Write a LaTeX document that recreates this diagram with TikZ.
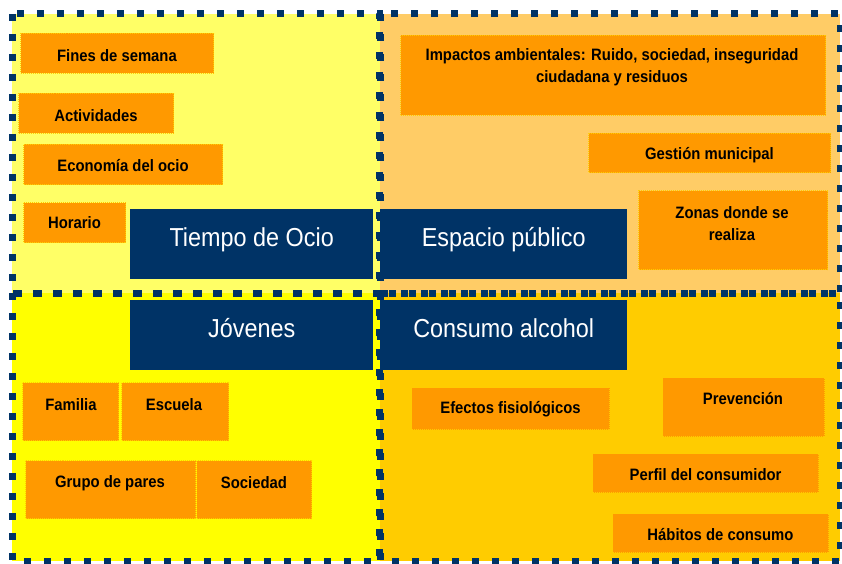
\documentclass[tikz,border=0pt]{standalone}
\usepackage{fontspec}
\setmainfont{Liberation Sans}[FakeStretch=0.9]
\definecolor{navy}{HTML}{003366}
\definecolor{qtl}{HTML}{FFFF66}
\definecolor{qtr}{HTML}{FFCC66}
\definecolor{qbl}{HTML}{FFFF00}
\definecolor{qbr}{HTML}{FFCC00}
\definecolor{obox}{HTML}{FF9900}
\definecolor{oedge}{HTML}{FFCC00}
\tikzset{
  quadborder/.style={draw=navy, line width=7pt, dash pattern=on 7pt off 13pt},
  bluebox/.style={fill=navy, draw=none, anchor=north west, inner sep=0pt, text=white,
     text height=18pt, text depth=14pt,
     font=\fontsize{26}{28}\selectfont},
  orangebox/.style={fill=obox, draw=oedge, densely dotted, line width=1pt, anchor=north west, inner sep=0pt},
  otext/.style={text=black, font=\bfseries\fontsize{16.5}{22}\selectfont, align=center, inner sep=0pt},
}
\newcommand{\obx}[5]{% name, x1, y1, x2, y2
  \node[orangebox, minimum width={(#4-#2)*1pt}, minimum height={(#5-#3)*1pt}] (#1) at (#2pt,-#3pt) {};}
\begin{document}
\begin{tikzpicture}[x=1pt,y=-1pt]
\useasboundingbox (0,0) rectangle (842,564);
% quadrant fills
\fill[qtl] (12,14) rectangle (380,293);
\fill[qtr] (380,14) rectangle (840,293);
\fill[qbl] (12,293) rectangle (380,561);
\fill[qbr] (380,293) rectangle (840,561);
% quadrant borders
\draw[quadborder] (12,14) rectangle (379,293);
\draw[quadborder] (380,14) rectangle (840,293);
\draw[quadborder] (12,293) rectangle (379,561);
\draw[quadborder] (380,293) rectangle (840,561);
% blue boxes
\node[bluebox, minimum width=243pt, minimum height=70pt] (ocio) at (130pt,-209pt) {Tiempo de Ocio};
\node[bluebox, minimum width=247pt, minimum height=70pt] (espacio) at (380pt,-209pt) {Espacio público};
\node[bluebox, minimum width=243pt, minimum height=70pt] (jovenes) at (130pt,-300pt) {Jóvenes};
\node[bluebox, minimum width=247pt, minimum height=70pt] (consumo) at (380pt,-300pt) {Consumo alcohol};
% orange boxes
\obx{fines}{20}{33}{213}{73}
\obx{activ}{18}{93}{173}{133}
\obx{econ}{23}{144}{222}{184}
\obx{hor}{23}{202}{125}{242}
\obx{imp}{400}{35}{825}{115}
\obx{gest}{588}{133}{830}{172}
\obx{zonas}{638}{190}{827}{269}
\obx{fam}{22}{382}{118}{440}
\obx{esc}{121}{382}{228}{440}
\obx{grupo}{25}{460}{195}{518}
\obx{soc}{196}{460}{311}{518}
\obx{efe}{411}{387}{609}{429}
\obx{prev}{662}{377}{824}{436}
\obx{perf}{592}{453}{818}{492}
\obx{hab}{612}{513}{828}{552}
% texts
\node[otext] (tfines) at ([yshift=-2pt]fines.center) {Fines de semana};
\node[otext] (tactiv) at ([yshift=-2pt]activ.center) {Actividades};
\node[otext] (tecon) at ([yshift=-1pt]econ.center) {Economía del ocio};
\node[otext] (thor) at (hor.center) {Horario};
\node[otext, anchor=center] (timp) at (612,67) {Impactos ambientales: Ruido, sociedad, inseguridad\\ciudadana y residuos};
\node[otext] (tgest) at ([yshift=-2pt]gest.center) {Gestión municipal};
\node[otext] (tzonas) at (732,224) {Zonas donde se\\realiza};
\node[otext] (tfam) at (71,405) {Familia};
\node[otext] (tesc) at (174,405) {Escuela};
\node[otext] (tgrupo) at (110,483) {Grupo de pares};
\node[otext] (tsoc) at (254,483) {Sociedad};
\node[otext] (tefe) at ([yshift=-1pt]efe.center) {Efectos fisiológicos};
\node[otext] (tprev) at (743,399) {Prevención};
\node[otext] (tperf) at ([yshift=-2pt]perf.center) {Perfil del consumidor};
\node[otext] (thab) at ([yshift=-2pt]hab.center) {Hábitos de consumo};
\end{tikzpicture}
\end{document}
